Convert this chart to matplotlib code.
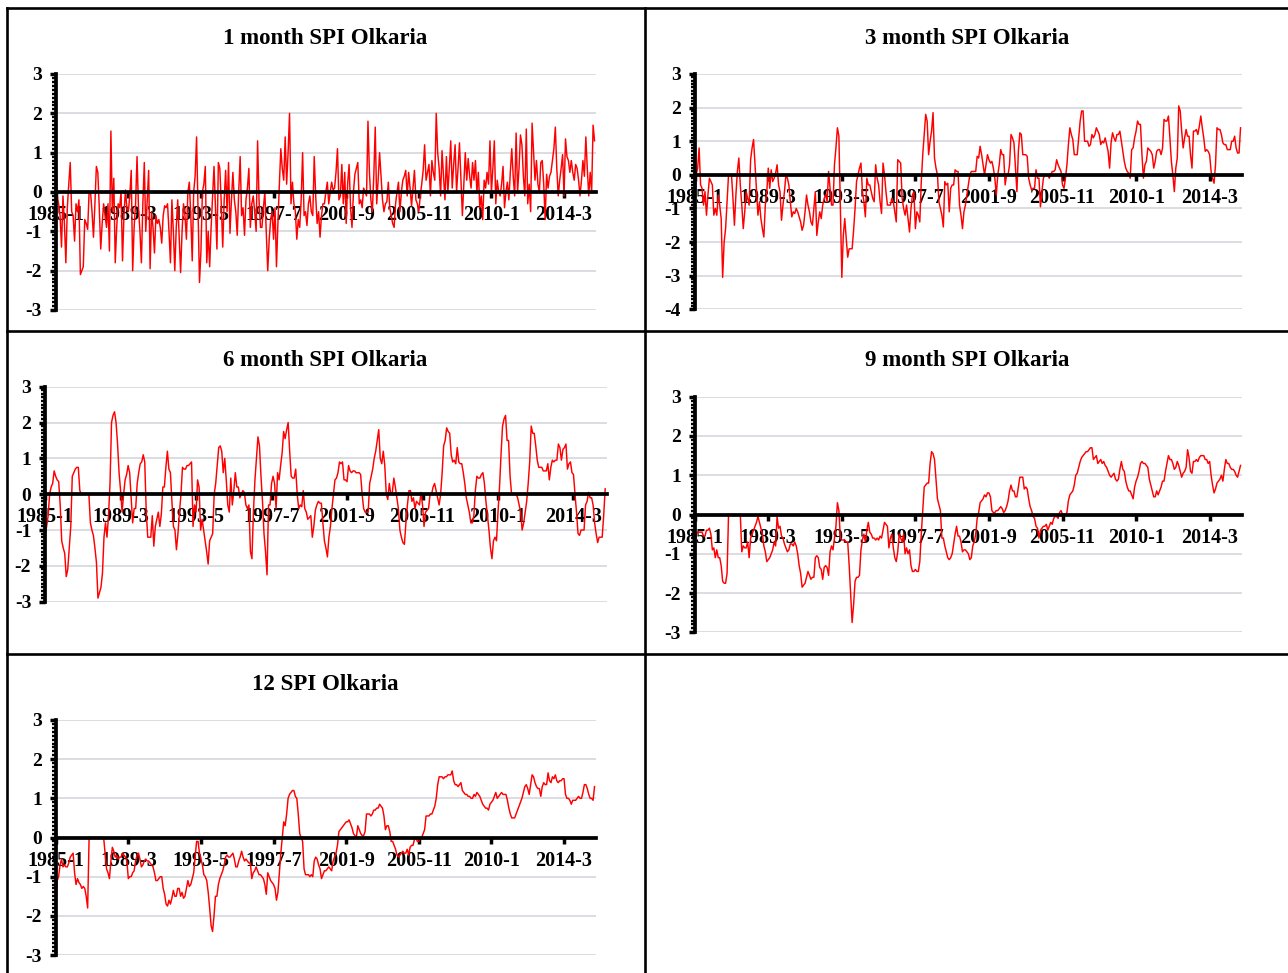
import numpy as np
import matplotlib
matplotlib.use("Agg")
import matplotlib.pyplot as plt
from matplotlib.ticker import MultipleLocator
from matplotlib.lines import Line2D

plt.rcParams['font.family'] = ['Liberation Serif', 'DejaVu Serif']
plt.rcParams['font.weight'] = 'bold'
plt.rcParams['axes.unicode_minus'] = False

# x axis: monthly values 1985-1 .. 2015-12, label every 50 months
tick_pos = [0, 50, 100, 150, 200, 250, 300, 350]
tick_lbl = ["1985-1", "1989-3", "1993-5", "1997-7", "2001-9", "2005-11", "2010-1", "2014-3"]

# 1 month SPI (one row per year)
spi1 = [
    1.2, -0.1, -0.3, -0.6, -1.4, -0.1, -0.8, -1.8, -0.4, 0.2, 0.75, -0.5,
    -0.6, -1.25, -0.3, -0.5, -0.2, -2.1, -2.0, -1.9, -0.7, -0.8, -0.95, 0.0,
    0.0, -0.5, -1.15, -0.3, 0.65, 0.5, -0.4, -1.45, -0.8, -0.3, -0.6, -0.9,
    -0.3, -1.5, 1.55, -0.5, 0.35, -1.8, -0.9, -0.3, -0.4, 0.0, -1.75, -0.6,
    0.05, -0.4, -0.5, -0.1, 0.55, -2.0, -0.9, -0.3, 0.9, -0.4, -1.0, -1.8,
    -0.3, 0.75, -1.0, -0.2, 0.55, -1.95, -0.5, -0.9, -1.55, -0.6, -0.8, -0.7,
    -0.9, -1.3, -0.6, -0.35, -0.4, -0.3, -1.0, -1.8, -0.2, -1.0, -2.0, -0.9,
    -0.2, -1.1, -2.05, -1.0, -0.3, -0.6, -1.2, 0.0, 0.25, -0.6, -1.75, 0.0,
    0.4, 1.4, -0.5, -2.3, -1.5, 0.0, 0.2, 0.65, -1.8, -1.0, -1.9, -0.9,
    -0.1, 0.65, -0.4, -1.45, 0.75, 0.6, -0.3, -1.4, -0.2, 0.55, -0.5, 0.75,
    -1.05, -0.2, 0.5, -0.2, -0.5, -1.1, 0.0, 0.9, -0.6, -0.4, -1.1, -0.2,
    0.1, 0.6, -0.9, -0.3, -0.1, -0.5, -1.0, 1.3, -0.2, -0.9, -0.9, -0.4,
    0.0, -1.05, -2.0, -1.2, -0.7, -0.5, -1.2, -0.4, -1.9, -0.8, 0.2, 1.1,
    0.6, 0.3, 1.4, 0.2, 1.0, 2.0, -0.3, 0.25, -0.3, -0.5, -1.2, -0.7,
    -0.9, -0.2, 1.0, -0.6, -0.5, -0.85, -0.3, -0.1, -0.5, -0.6, 0.9, -0.1,
    -0.8, -0.5, -1.15, -0.6, -0.3, -0.3, 0.0, 0.25, -0.3, 0.0, 0.25, 0.05,
    0.1, 0.5, 1.1, -0.2, -0.1, 0.7, -0.3, 0.5, -0.8, 0.2, 0.7, -0.4,
    -0.9, 0.0, 0.45, 0.6, 0.75, -0.3, -0.2, -0.4, 0.1, 0.0, -0.1, 1.8,
    0.5, -0.2, -0.5, 0.4, 1.65, -0.3, 0.3, 1.0, 0.4, -0.2, -0.5, -0.3,
    -0.25, 0.25, -0.4, -0.6, -0.8, -0.9, -0.3, 0.0, 0.25, -0.5, 0.0, 0.3,
    0.4, 0.55, -0.1, 0.5, 0.1, -0.35, 0.1, 0.55, -0.2, -0.3, -0.5, -0.1,
    0.2, 0.55, 1.2, 0.3, 0.5, 0.7, -0.1, 0.8, 0.5, 0.3, 2.0, 1.0,
    0.6, -0.1, 1.05, 0.4, -0.2, 0.9, 0.0, 0.6, 1.3, 0.1, 0.7, 1.2,
    0.0, 0.6, 1.25, 0.3, -0.6, 0.2, 1.0, 0.3, 0.85, 0.4, 0.1, 0.75,
    0.3, 0.8, 0.0, 0.5, -0.4, -0.1, -0.7, 0.3, 0.1, 0.5, 0.2, 1.3,
    0.0, 0.6, 1.3, -0.3, 0.3, 0.0, -0.1, 0.2, 0.65, -0.4, 0.0, 0.25,
    -0.2, 0.5, 1.1, 0.4, -0.1, 1.5, 0.0, 0.6, 1.45, 1.2, 0.4, -0.1,
    1.6, -0.3, 0.2, -0.5, 1.75, 1.0, 0.3, 0.8, 0.2, 0.0, 0.75, 0.8,
    0.2, -0.7, 0.45, 0.1, 0.4, 0.5, 0.8, 1.1, 1.65, 0.6, -0.1, 0.3,
    0.6, 0.95, -0.1, 1.35, 0.9, 0.8, 0.5, 0.8, 0.5, 0.3, 0.7, 0.6,
    0.3, -0.1, 0.3, 0.8, 0.4, 1.4, 0.6, -0.1, 0.5, 0.0, 1.7, 1.3,
]

# 3 month SPI
spi3 = [
    -1.1, 0.0, 0.2, 0.8, -0.3, -0.4, -0.9, -0.5, -1.2, -0.6, -0.1, -0.2,
    -0.3, -1.2, -1.0, -1.2, -0.6, -0.9, -1.3, -3.05, -2.0, -1.6, -0.8, 0.0,
    0.0, 0.0, -0.7, -1.5, -0.6, 0.1, 0.5, -0.3, -0.9, -1.6, -1.1, -0.5,
    -0.7, -0.9, 0.45, 0.8, 1.05, 0.3, -0.4, -1.2, -0.8, -1.3, -1.6, -1.85,
    -0.9, -0.5, 0.2, -0.4, 0.15, -0.2, -0.1, 0.05, 0.3, -0.3, -0.5, -1.35,
    -0.9, -0.5, 0.0, -0.1, -0.3, -0.8, -1.25, -1.1, -1.15, -1.0, -1.1, -1.25,
    -1.4, -1.65, -1.5, -1.1, -0.6, -0.9, -1.1, -1.4, -1.5, -1.0, -0.5, -1.8,
    -1.4, -1.1, -1.3, -0.9, -0.7, -0.6, -0.8, 0.1, -0.4, -0.9, -0.9, 0.3,
    0.8, 1.4, 1.15, -1.0, -3.05, -1.8, -1.3, -1.9, -2.45, -2.2, -2.2, -2.2,
    -1.65, -1.0, -0.2, 0.0, 0.2, 0.35, -0.5, -0.8, -1.25, -0.1, -0.3, -0.3,
    -0.5, -0.7, -0.8, 0.3, -0.1, -0.3, -0.8, -1.15, 0.35, 0.0, -0.5, -0.9,
    -0.9, -0.9, -0.7, -0.8, -1.1, -1.4, 0.45, 0.4, 0.35, -0.7, -1.0, -1.2,
    -0.9, -1.3, -1.7, -1.0, -0.6, -0.5, -1.6, -1.1, -1.2, -1.4, -0.2, 0.6,
    1.2, 1.8, 1.6, 0.6, 1.0, 1.3, 1.85, 0.5, 0.2, 0.0, -0.8, -1.0,
    -1.2, -1.55, -0.2, -0.3, -0.25, -1.1, -0.4, -0.3, -0.3, 0.15, 0.1, 0.1,
    -0.9, -1.2, -1.6, -1.1, -0.9, -0.6, -0.3, 0.0, 0.1, 0.1, 0.1, 0.1,
    0.55, 0.5, 0.85, 0.6, 0.3, 0.0, 0.3, 0.6, 0.45, 0.35, 0.4, 0.2,
    -0.1, -0.6, 0.0, 0.3, 0.75, 0.6, 0.6, -0.3, 0.0, 0.0, 0.3, 1.2,
    1.1, 0.95, 0.2, -0.5, 0.7, 1.25, 1.2, 0.6, 0.6, 0.6, 0.55, -0.1,
    -0.3, -0.45, -0.4, -0.4, 0.15, -0.1, -0.1, -0.95, -0.5, -0.1, 0.0, 0.0,
    0.0, -0.1, 0.0, 0.1, 0.1, 0.15, 0.45, 0.3, 0.2, 0.1, -0.3, -0.4,
    -0.1, 0.3, 0.9, 1.4, 1.2, 1.05, 0.6, 0.6, 0.6, 1.1, 1.6, 1.9,
    1.9, 1.0, 1.0, 1.0, 0.85, 0.9, 1.2, 1.1, 1.2, 1.4, 1.3, 1.2,
    0.9, 1.0, 0.95, 1.1, 0.9, 0.7, 0.2, 0.95, 1.25, 1.1, 1.0, 1.2,
    1.2, 1.3, 1.0, 0.7, 0.4, 0.2, 0.1, 0.05, -0.1, 0.75, 0.8, 1.1,
    1.3, 1.6, 1.5, 1.5, 0.6, -0.1, 0.3, 0.4, 0.8, 0.75, 0.7, 0.6,
    0.2, 0.4, 0.7, 0.75, 0.75, 0.6, 0.8, 1.65, 1.6, 1.6, 1.75, 1.1,
    0.4, 0.0, -0.5, 0.2, 0.5, 2.05, 1.9, 1.3, 0.8, 1.1, 1.35, 1.15,
    1.15, 0.6, 0.2, 1.3, 1.3, 1.35, 1.2, 1.45, 1.75, 1.4, 1.1, 0.7,
    0.75, 0.7, 0.6, 0.1, -0.1, -0.25, 0.3, 1.4, 1.35, 1.35, 1.2, 0.95,
    0.9, 0.9, 0.75, 0.75, 0.75, 1.0, 1.0, 1.15, 0.8, 0.65, 0.65, 1.4,
]

# 6 month SPI
spi6 = [
    -1.15, -0.9, -0.6, 0.0, 0.2, 0.3, 0.65, 0.5, 0.4, 0.35, -0.3, -1.3,
    -1.5, -1.65, -2.3, -2.1, -1.5, -0.9, 0.5, 0.6, 0.7, 0.75, 0.75, 0.1,
    0.0, 0.0, 0.0, 0.0, 0.0, 0.0, -0.8, -1.0, -1.15, -1.5, -1.9, -2.9,
    -2.75, -2.6, -2.2, -1.2, -0.8, -1.2, -0.6, 0.3, 2.0, 2.2, 2.3, 2.0,
    1.4, 0.6, 0.1, -0.5, 0.0, 0.4, 0.55, 0.8, 0.6, -0.1, -0.8, -0.4,
    -0.4, 0.3, 0.6, 0.85, 0.9, 1.1, 0.9, -0.5, -1.2, -1.2, -1.2, -0.6,
    -1.45, -0.9, -0.7, -0.5, -0.9, -0.55, 0.2, 0.2, 0.75, 1.2, 0.7, 0.6,
    -0.2, -0.9, -1.0, -1.55, -1.1, -0.5, 0.0, 0.75, 0.7, 0.7, 0.8, 0.8,
    0.85, 0.9, -0.9, -0.3, -0.5, 0.4, 0.2, -1.0, -0.7, -1.0, -1.3, -1.6,
    -1.95, -1.3, -1.2, -1.1, 0.0, 0.3, 0.8, 1.3, 1.35, 1.2, 0.6, 1.0,
    0.4, -0.3, -0.5, 0.45, -0.3, 0.1, 0.6, 0.2, 0.2, -0.1, 0.0, 0.1,
    0.05, -0.3, -0.4, -0.3, -1.6, -1.8, -0.5, 0.4, 1.0, 1.6, 1.35, 0.5,
    -0.2, -1.1, -1.6, -2.25, -0.3, -0.3, 0.3, 0.5, 0.3, -0.4, 0.6, 0.4,
    0.8, 1.15, 1.75, 1.55, 1.8, 2.0, 1.2, 0.5, 0.45, 0.45, 0.7, 0.0,
    -0.4, -0.3, -0.35, 0.1, -0.4, -0.5, -0.7, -0.65, -0.6, -1.2, -0.9, -0.45,
    -0.3, -0.2, -0.25, -0.25, -0.8, -1.3, -1.5, -1.75, -1.2, -0.9, -0.4, 0.0,
    0.4, 0.45, 0.6, 0.9, 0.85, 0.9, 0.4, 0.4, 0.35, 0.8, 0.65, 0.6,
    0.65, 0.65, 0.6, 0.6, 0.6, 0.55, 0.0, -0.4, -0.5, -0.5, -0.5, 0.3,
    0.5, 0.7, 1.0, 1.2, 1.5, 1.8, 1.0, 0.85, 1.2, 0.8, 0.0, -0.15,
    0.3, 0.0, 0.05, 0.45, 0.2, -0.1, -0.4, -1.0, -1.2, -1.35, -1.4, -0.8,
    -0.3, 0.1, 0.1, -0.2, -0.1, -0.4, -0.2, -0.25, -0.3, 0.05, -0.3, -0.9,
    -0.5, -0.45, -0.4, 0.0, 0.0, 0.2, 0.3, 0.1, -0.1, -0.3, 0.0, 0.6,
    1.35, 1.5, 1.85, 1.75, 1.7, 1.1, 0.9, 0.95, 0.85, 1.3, 0.9, 0.85,
    0.85, 0.6, 0.3, -0.1, -0.3, -0.5, -0.8, -0.8, -0.6, 0.1, 0.5, 0.45,
    0.45, 0.55, 0.6, 0.3, -0.2, -0.6, -1.0, -1.5, -1.8, -1.3, -1.2, -1.3,
    -0.5, 0.2, 1.1, 1.9, 2.1, 2.2, 1.5, 1.5, 0.5, 0.0, 0.0, 0.0,
    0.0, -0.1, -0.3, -0.5, -1.0, -0.8, -0.5, -0.2, 0.3, 0.9, 1.9, 1.7,
    1.7, 1.35, 0.95, 0.75, 0.75, 0.75, 0.65, 0.65, 0.65, 0.85, 0.4, 0.75,
    0.95, 0.9, 0.95, 0.95, 1.4, 1.3, 0.95, 1.25, 1.3, 1.4, 0.7, 0.85,
    0.9, 0.6, 0.55, 0.0, -0.5, -1.1, -1.15, -1.0, -1.0, -1.0, -0.3, -0.2,
    0.05, -0.1, -0.1, -0.3, -0.8, -1.1, -1.35, -1.2, -1.2, -1.2, -0.6, 0.15,
]

# 9 month SPI
spi9 = [
    -1.2, -0.5, -0.45, -0.45, -0.45, -0.45, -0.55, -0.55, -0.4, -0.4, -0.35, -0.5,
    -0.9, -0.85, -1.1, -0.9, -1.1, -1.1, -1.3, -1.7, -1.75, -1.75, -1.5, 0.0,
    0.0, 0.0, 0.0, 0.0, 0.0, 0.0, 0.0, 0.0, -0.95, -0.8, -0.85, -0.85,
    -0.7, -1.1, -0.6, -0.5, -0.4, -0.3, -0.2, -0.05, -0.2, -0.35, -0.5, -0.8,
    -0.95, -1.2, -1.15, -1.1, -1.0, -0.9, -0.7, -0.8, -0.05, -0.35, -0.3, -0.55,
    -0.6, -0.75, -0.85, -0.95, -0.9, -0.75, -0.75, -0.8, -0.7, -0.8, -1.0, -1.3,
    -1.5, -1.85, -1.8, -1.75, -1.6, -1.45, -1.55, -1.65, -1.6, -1.6, -1.1, -1.05,
    -1.1, -1.35, -1.4, -1.65, -1.35, -1.3, -1.35, -1.55, -0.95, -0.8, -0.9, -0.6,
    -0.3, 0.3, 0.1, -0.6, -0.65, -0.65, -0.65, -0.7, -0.7, -1.3, -2.0, -2.75,
    -2.3, -1.7, -1.6, -1.6, -1.55, -0.9, -0.65, -0.5, -0.7, -0.4, -0.2, -0.45,
    -0.5, -0.6, -0.6, -0.65, -0.6, -0.65, -0.55, -0.6, -0.4, -0.2, -0.25, -0.3,
    -0.85, -0.6, -0.5, -0.85, -1.1, -1.2, -0.95, -0.5, -0.6, -0.7, -0.5, -1.0,
    -0.85, -1.0, -0.9, -1.3, -1.45, -1.45, -1.4, -1.45, -1.45, -1.2, -0.5, 0.1,
    0.7, 0.75, 0.8, 0.8, 1.3, 1.6, 1.55, 1.4, 0.9, 0.4, 0.25, 0.1,
    -0.6, -0.6, -0.8, -0.95, -1.1, -1.15, -1.1, -1.0, -0.75, -0.5, -0.3, -0.55,
    -0.55, -0.7, -0.95, -0.9, -0.9, -0.95, -1.0, -1.15, -1.1, -0.8, -0.7, -0.5,
    -0.1, 0.05, 0.3, 0.35, 0.4, 0.5, 0.45, 0.55, 0.55, 0.45, 0.1, 0.05,
    0.05, 0.1, 0.1, 0.15, 0.2, 0.15, 0.05, 0.1, 0.2, 0.35, 0.6, 0.75,
    0.6, 0.6, 0.45, 0.45, 0.7, 0.95, 0.95, 0.95, 0.65, 0.7, 0.65, 0.4,
    0.2, 0.1, -0.05, -0.1, -0.3, -0.35, -0.6, -0.4, -0.35, -0.3, -0.3, -0.25,
    -0.4, -0.3, -0.2, -0.25, -0.1, -0.05, -0.05, -0.1, 0.05, 0.1, 0.0, 0.0,
    0.0, 0.05, 0.35, 0.5, 0.55, 0.6, 0.75, 1.0, 1.05, 1.2, 1.35, 1.45,
    1.5, 1.55, 1.6, 1.6, 1.65, 1.7, 1.7, 1.4, 1.45, 1.5, 1.3, 1.35,
    1.4, 1.3, 1.35, 1.25, 1.2, 1.1, 1.0, 0.95, 1.0, 1.05, 0.9, 0.85,
    0.9, 1.15, 1.35, 1.15, 1.1, 0.85, 0.7, 0.6, 0.6, 0.5, 0.4, 0.7,
    0.85, 0.95, 1.1, 1.3, 1.35, 1.3, 1.3, 1.25, 1.2, 0.9, 0.75, 0.6,
    0.45, 0.45, 0.6, 0.5, 0.6, 0.7, 0.85, 0.85, 1.1, 1.3, 1.5, 1.4,
    1.4, 1.3, 1.15, 1.2, 1.35, 1.25, 1.1, 0.95, 1.05, 1.1, 1.2, 1.65,
    1.45, 1.1, 1.05, 1.35, 1.35, 1.4, 1.35, 1.45, 1.5, 1.5, 1.5, 1.4,
    1.4, 1.3, 1.35, 1.0, 0.75, 0.55, 0.65, 0.8, 0.85, 0.9, 1.0, 0.85,
    1.15, 1.4, 1.3, 1.3, 1.2, 1.15, 1.15, 1.1, 1.0, 0.95, 1.1, 1.25,
]

# 12 month SPI
spi12 = [
    -1.8, -1.1, -1.0, -0.7, -0.55, -0.75, -0.7, -0.75, -0.75, -0.65, -0.5, -0.45,
    -0.4, -0.9, -1.2, -1.05, -1.15, -1.2, -1.3, -1.25, -1.3, -1.5, -1.8, 0.0,
    0.0, 0.0, 0.0, 0.0, 0.0, 0.0, 0.0, 0.0, 0.0, 0.0, -0.4, -0.8,
    -0.9, -1.05, -0.6, -0.25, -0.35, -0.5, -0.45, -0.55, -0.5, -0.5, -0.4, -0.45,
    -0.5, -0.6, -1.05, -1.0, -1.0, -0.9, -0.85, -0.6, -0.45, -0.4, -0.55, -0.75,
    -0.7, -0.6, -0.55, -0.6, -0.6, -0.65, -0.7, -0.75, -0.9, -1.1, -1.1, -1.05,
    -1.0, -1.0, -1.3, -1.45, -1.7, -1.75, -1.6, -1.7, -1.55, -1.35, -1.5, -1.5,
    -1.3, -1.3, -1.5, -1.4, -1.55, -1.5, -1.3, -1.1, -1.25, -1.2, -1.05, -0.9,
    -0.5, -0.1, -0.1, -0.4, -0.55, -0.7, -0.95, -1.0, -1.1, -1.4, -1.8, -2.25,
    -2.4, -2.0, -1.5, -1.5, -1.2, -1.05, -0.95, -0.85, -0.7, -0.5, -0.45, -0.5,
    -0.5, -0.45, -0.4, -0.55, -0.75, -0.75, -0.6, -0.5, -0.35, -0.5, -0.6, -0.55,
    -0.6, -0.65, -0.65, -1.05, -0.9, -0.85, -0.75, -0.85, -0.95, -0.95, -1.0, -1.05,
    -1.2, -1.45, -0.9, -1.0, -1.1, -1.15, -1.2, -1.3, -1.6, -1.4, -0.9, -0.4,
    0.0, 0.4, 0.3, 0.6, 1.0, 1.1, 1.15, 1.2, 1.2, 1.05, 1.0, 0.6,
    0.1, 0.0, -0.1, -0.8, -0.95, -0.95, -0.95, -1.0, -0.95, -1.0, -0.6, -0.5,
    -0.55, -0.7, -0.8, -1.05, -0.95, -0.85, -0.85, -0.8, -0.75, -0.8, -0.85, -0.6,
    -0.5, -0.4, -0.2, 0.15, 0.2, 0.25, 0.3, 0.35, 0.4, 0.4, 0.45, 0.35,
    0.25, 0.1, 0.05, 0.0, 0.3, 0.2, 0.1, 0.05, 0.05, 0.15, 0.6, 0.6,
    0.6, 0.55, 0.6, 0.7, 0.7, 0.75, 0.75, 0.85, 0.8, 0.75, 0.55, 0.2,
    0.3, 0.3, 0.15, -0.1, -0.1, -0.2, -0.3, -0.45, -0.5, -0.45, -0.4, -0.35,
    -0.4, -0.4, -0.3, -0.45, -0.25, -0.2, -0.2, -0.05, 0.0, -0.1, -0.1, 0.0,
    0.0, 0.1, 0.2, 0.55, 0.55, 0.55, 0.6, 0.6, 0.7, 0.8, 1.0, 1.35,
    1.55, 1.55, 1.55, 1.5, 1.55, 1.55, 1.6, 1.6, 1.6, 1.7, 1.45, 1.35,
    1.35, 1.3, 1.35, 1.4, 1.2, 1.15, 1.1, 1.1, 1.05, 1.05, 1.0, 1.0,
    1.1, 1.05, 1.15, 1.1, 1.05, 0.95, 0.85, 0.8, 0.75, 0.75, 0.7, 0.85,
    0.9, 0.95, 1.05, 1.15, 1.0, 1.05, 1.1, 1.15, 1.1, 1.1, 1.1, 0.95,
    0.75, 0.6, 0.5, 0.5, 0.5, 0.6, 0.7, 0.8, 0.9, 1.0, 1.15, 1.3,
    1.35, 1.25, 1.1, 1.35, 1.6, 1.55, 1.4, 1.3, 1.25, 1.25, 1.05, 1.3,
    1.4, 1.35, 1.35, 1.65, 1.45, 1.4, 1.55, 1.5, 1.6, 1.45, 1.4, 1.45,
    1.45, 1.5, 1.5, 1.1, 1.0, 1.0, 0.95, 0.85, 0.95, 0.95, 0.95, 1.0,
    1.05, 1.0, 1.0, 1.15, 1.35, 1.35, 1.25, 1.1, 1.0, 1.0, 0.95, 1.3,
]

W, H = 1288, 973
fig = plt.figure(figsize=(W / 100, H / 100), dpi=100)


def px_rect(x0, x1, ytop, ybot):
    # pixel box -> figure fraction
    return [x0 / W, 1 - ybot / H, (x1 - x0) / W, (ybot - ytop) / H]


def panel(rect, data, ymin, title, tx, ty):
    ax = fig.add_axes(rect)
    ax.plot(np.arange(len(data)), data, color="#ff0000", lw=1.05, zorder=2)
    ax.set_xlim(0, 372)
    ax.set_ylim(ymin, 3)
    for g in range(ymin, 4):
        ax.axhline(g, color="#d9d9e0", lw=1.3, zorder=1)
    ax.set_yticks(range(ymin, 4))
    ax.set_yticklabels([str(v) for v in range(ymin, 4)])
    ax.yaxis.set_minor_locator(MultipleLocator(0.1))
    ax.set_xticks(tick_pos)
    ax.set_xticklabels(tick_lbl)
    ax.spines["top"].set_visible(False)
    ax.spines["right"].set_visible(False)
    ax.spines["bottom"].set_position(("data", 0))
    ax.spines["bottom"].set_linewidth(2.7)
    ax.spines["left"].set_linewidth(2.7)
    ax.tick_params(axis="x", direction="out", length=4, width=2.5, pad=5.5,
                   labelsize=14.5)
    ax.tick_params(axis="y", which="major", direction="out", length=4, width=2.5,
                   pad=6, labelsize=14)
    ax.tick_params(axis="y", which="minor", direction="out", length=3, width=1.7)
    ax.patch.set_alpha(0)
    fig.text(tx / W, 1 - ty / H, title, ha="center", va="center",
             fontsize=16.5, fontweight="bold")
    return ax


panel(px_rect(55.7, 596, 74, 310), spi1, -3, "1 month SPI Olkaria", 325, 38)
panel(px_rect(694.7, 1242, 74, 309.3), spi3, -4, "3 month SPI Olkaria", 967, 38)
panel(px_rect(45.1, 606.7, 386.7, 601.7), spi6, -3, "6 month SPI Olkaria", 325, 361)
panel(px_rect(694.7, 1242, 396.7, 632.3), spi9, -3, "9 month SPI Olkaria", 967, 361)
panel(px_rect(55.7, 596, 720, 955), spi12, -3, "12 SPI Olkaria", 325, 684)

# panel frames
frame = dict(color="black", lw=1.9, transform=fig.transFigure)
fig.add_artist(Line2D([7 / W, 1], [1 - 8 / H, 1 - 8 / H], **frame))
fig.add_artist(Line2D([7 / W, 7 / W], [1 - 8 / H, 0], **frame))
fig.add_artist(Line2D([645 / W, 645 / W], [1 - 8 / H, 0], **frame))
fig.add_artist(Line2D([7 / W, 1], [1 - 331 / H, 1 - 331 / H], **frame))
fig.add_artist(Line2D([7 / W, 1], [1 - 654 / H, 1 - 654 / H], **frame))

fig.savefig("out.png", dpi=100)
